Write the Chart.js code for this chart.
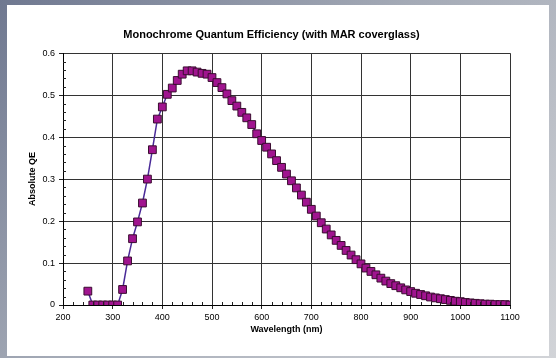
<!DOCTYPE html>
<html lang="en">
<head>
  <meta charset="UTF-8">
  <title>Monochrome Quantum Efficiency</title>
  <script src="https://cdn.jsdelivr.net/npm/chart.js"></script>
  <style>
    html, body { margin: 0; padding: 0; }
    body {
      width: 556px; height: 358px; overflow: hidden;
      background: linear-gradient(135deg, #6f7890 0%, #a4aab6 45%, #d2d4d8 100%);
      position: relative;
    }
    #panel {
      position: absolute; left: 7px; top: 5px; width: 542px; height: 351px;
      background: #fff;
    }
  </style>
</head>
<body>
  <div id="panel">
    <canvas id="myChart" width="542" height="351"></canvas>
  </div>

  <script>
    // wavelength (nm), 10 nm steps
    const wavelengths = [
      250, 260, 270, 280, 290, 300, 310, 320, 330, 340,
      350, 360, 370, 380, 390, 400, 410, 420, 430, 440,
      450, 460, 470, 480, 490, 500, 510, 520, 530, 540,
      550, 560, 570, 580, 590, 600, 610, 620, 630, 640,
      650, 660, 670, 680, 690, 700, 710, 720, 730, 740,
      750, 760, 770, 780, 790, 800, 810, 820, 830, 840,
      850, 860, 870, 880, 890, 900, 910, 920, 930, 940,
      950, 960, 970, 980, 990, 1000, 1010, 1020, 1030, 1040,
      1050, 1060, 1070, 1080, 1090, 1100
    ];
    // absolute QE
    const qe = [
      0.033, 0.000, 0.000, 0.000, 0.000, 0.000, 0.000, 0.037, 0.105, 0.158,
      0.198, 0.243, 0.300, 0.370, 0.443, 0.472, 0.502, 0.517, 0.535, 0.550,
      0.558, 0.558, 0.555, 0.552, 0.550, 0.542, 0.530, 0.518, 0.503, 0.487,
      0.474, 0.459, 0.446, 0.430, 0.408, 0.392, 0.376, 0.360, 0.344, 0.328,
      0.312, 0.296, 0.279, 0.262, 0.245, 0.228, 0.212, 0.196, 0.181, 0.167,
      0.154, 0.142, 0.130, 0.119, 0.108, 0.098, 0.088, 0.080, 0.072, 0.064,
      0.057, 0.051, 0.046, 0.041, 0.036, 0.032, 0.028, 0.025, 0.022, 0.019,
      0.017, 0.015, 0.013, 0.011, 0.009, 0.008, 0.006, 0.005, 0.004, 0.003,
      0.002, 0.002, 0.001, 0.001, 0.001, 0.000
    ];
    const xTicks = [200, 300, 400, 500, 600, 700, 800, 900, 1000, 1100];
    const yTicks = [0, 0.1, 0.2, 0.3, 0.4, 0.5, 0.6];

    const points = wavelengths.map((w, i) => ({ x: w, y: qe[i] }));

    // small minor tick marks inside the plot, like the original
    const minorTicks = {
      id: 'minorTicks',
      afterDraw(chart) {
        const ctx = chart.ctx;
        const xs = chart.scales.x, ys = chart.scales.y;
        const area = chart.chartArea;
        ctx.save();
        ctx.strokeStyle = '#222';
        ctx.lineWidth = 1;
        ctx.beginPath();
        for (let v = 200; v <= 1100; v += 20) {
          if (v % 100 === 0) continue;
          const px = Math.round(xs.getPixelForValue(v)) + 0.5;
          ctx.moveTo(px, area.bottom);
          ctx.lineTo(px, area.bottom - 3);
        }
        for (let k = 0; k <= 30; k++) {
          if (k % 5 === 0) continue;
          const py = Math.round(ys.getPixelForValue(k * 0.02)) + 0.5;
          ctx.moveTo(area.left, py);
          ctx.lineTo(area.left + 3, py);
        }
        ctx.stroke();
        ctx.restore();
      }
    };

    const tickFont = { family: 'Liberation Sans, Arial, sans-serif', size: 9 };
    const titleFont = { family: 'Liberation Sans, Arial, sans-serif', size: 9, weight: 'bold' };

    const config = {
      type: 'scatter',
      data: {
        datasets: [{
          label: 'QE',
          data: points,
          showLine: true,
          borderColor: '#4a2a98',
          borderWidth: 1.5,
          pointStyle: 'rect',
          pointRadius: 5.5,
          pointBackgroundColor: '#a0148f',
          pointBorderColor: '#3a0d30',
          pointBorderWidth: 1
        }]
      },
      options: {
        responsive: false,
        animation: false,
        layout: { padding: { left: 0, right: 13, top: 0, bottom: 0 } },
        plugins: {
          legend: { display: false },
          tooltip: { enabled: false },
          title: {
            display: true,
            text: 'Monochrome Quantum Efficiency (with MAR coverglass)',
            color: '#000',
            font: { family: 'Liberation Sans, Arial, sans-serif', size: 11, weight: 'bold' },
            padding: { top: 23, bottom: 12 }
          }
        },
        scales: {
          x: {
            type: 'linear',
            min: 200,
            max: 1100,
            afterBuildTicks: s => { s.ticks = xTicks.map(v => ({ value: v })); },
            afterFit: s => { s.height = 51; },
            grid: { color: '#333', lineWidth: 1, tickLength: 4, tickColor: '#222' },
            border: { color: '#000', width: 1 },
            ticks: { color: '#000', font: tickFont, padding: 3, maxRotation: 0, callback: v => String(v) },
            title: {
              display: true, text: 'Wavelength (nm)', color: '#000',
              font: titleFont, padding: { top: 0, bottom: 21 }
            }
          },
          y: {
            min: 0,
            max: 0.6,
            afterBuildTicks: s => { s.ticks = yTicks.map(v => ({ value: v })); },
            afterFit: s => { s.width = 56; },
            grid: { color: '#333', lineWidth: 1, tickLength: 4, tickColor: '#222' },
            border: { color: '#000', width: 1 },
            ticks: {
              color: '#000', font: tickFont, padding: 4,
              callback: v => v === 0 ? '0' : v.toFixed(1)
            },
            title: {
              display: true, text: 'Absolute QE', color: '#000',
              font: titleFont, padding: { top: 20, bottom: 0 }
            }
          },
          // empty right-hand axis, only keeps room on the right of the plot
          spacer: {
            type: 'linear',
            position: 'right',
            min: 0,
            max: 1,
            afterFit: s => { s.width = 26; },
            grid: { display: false },
            border: { display: false },
            ticks: { display: false }
          }
        }
      },
      plugins: [minorTicks]
    };

    const ctx = document.getElementById('myChart').getContext('2d');
    const myChart = new Chart(ctx, config);
  </script>
</body>
</html>
